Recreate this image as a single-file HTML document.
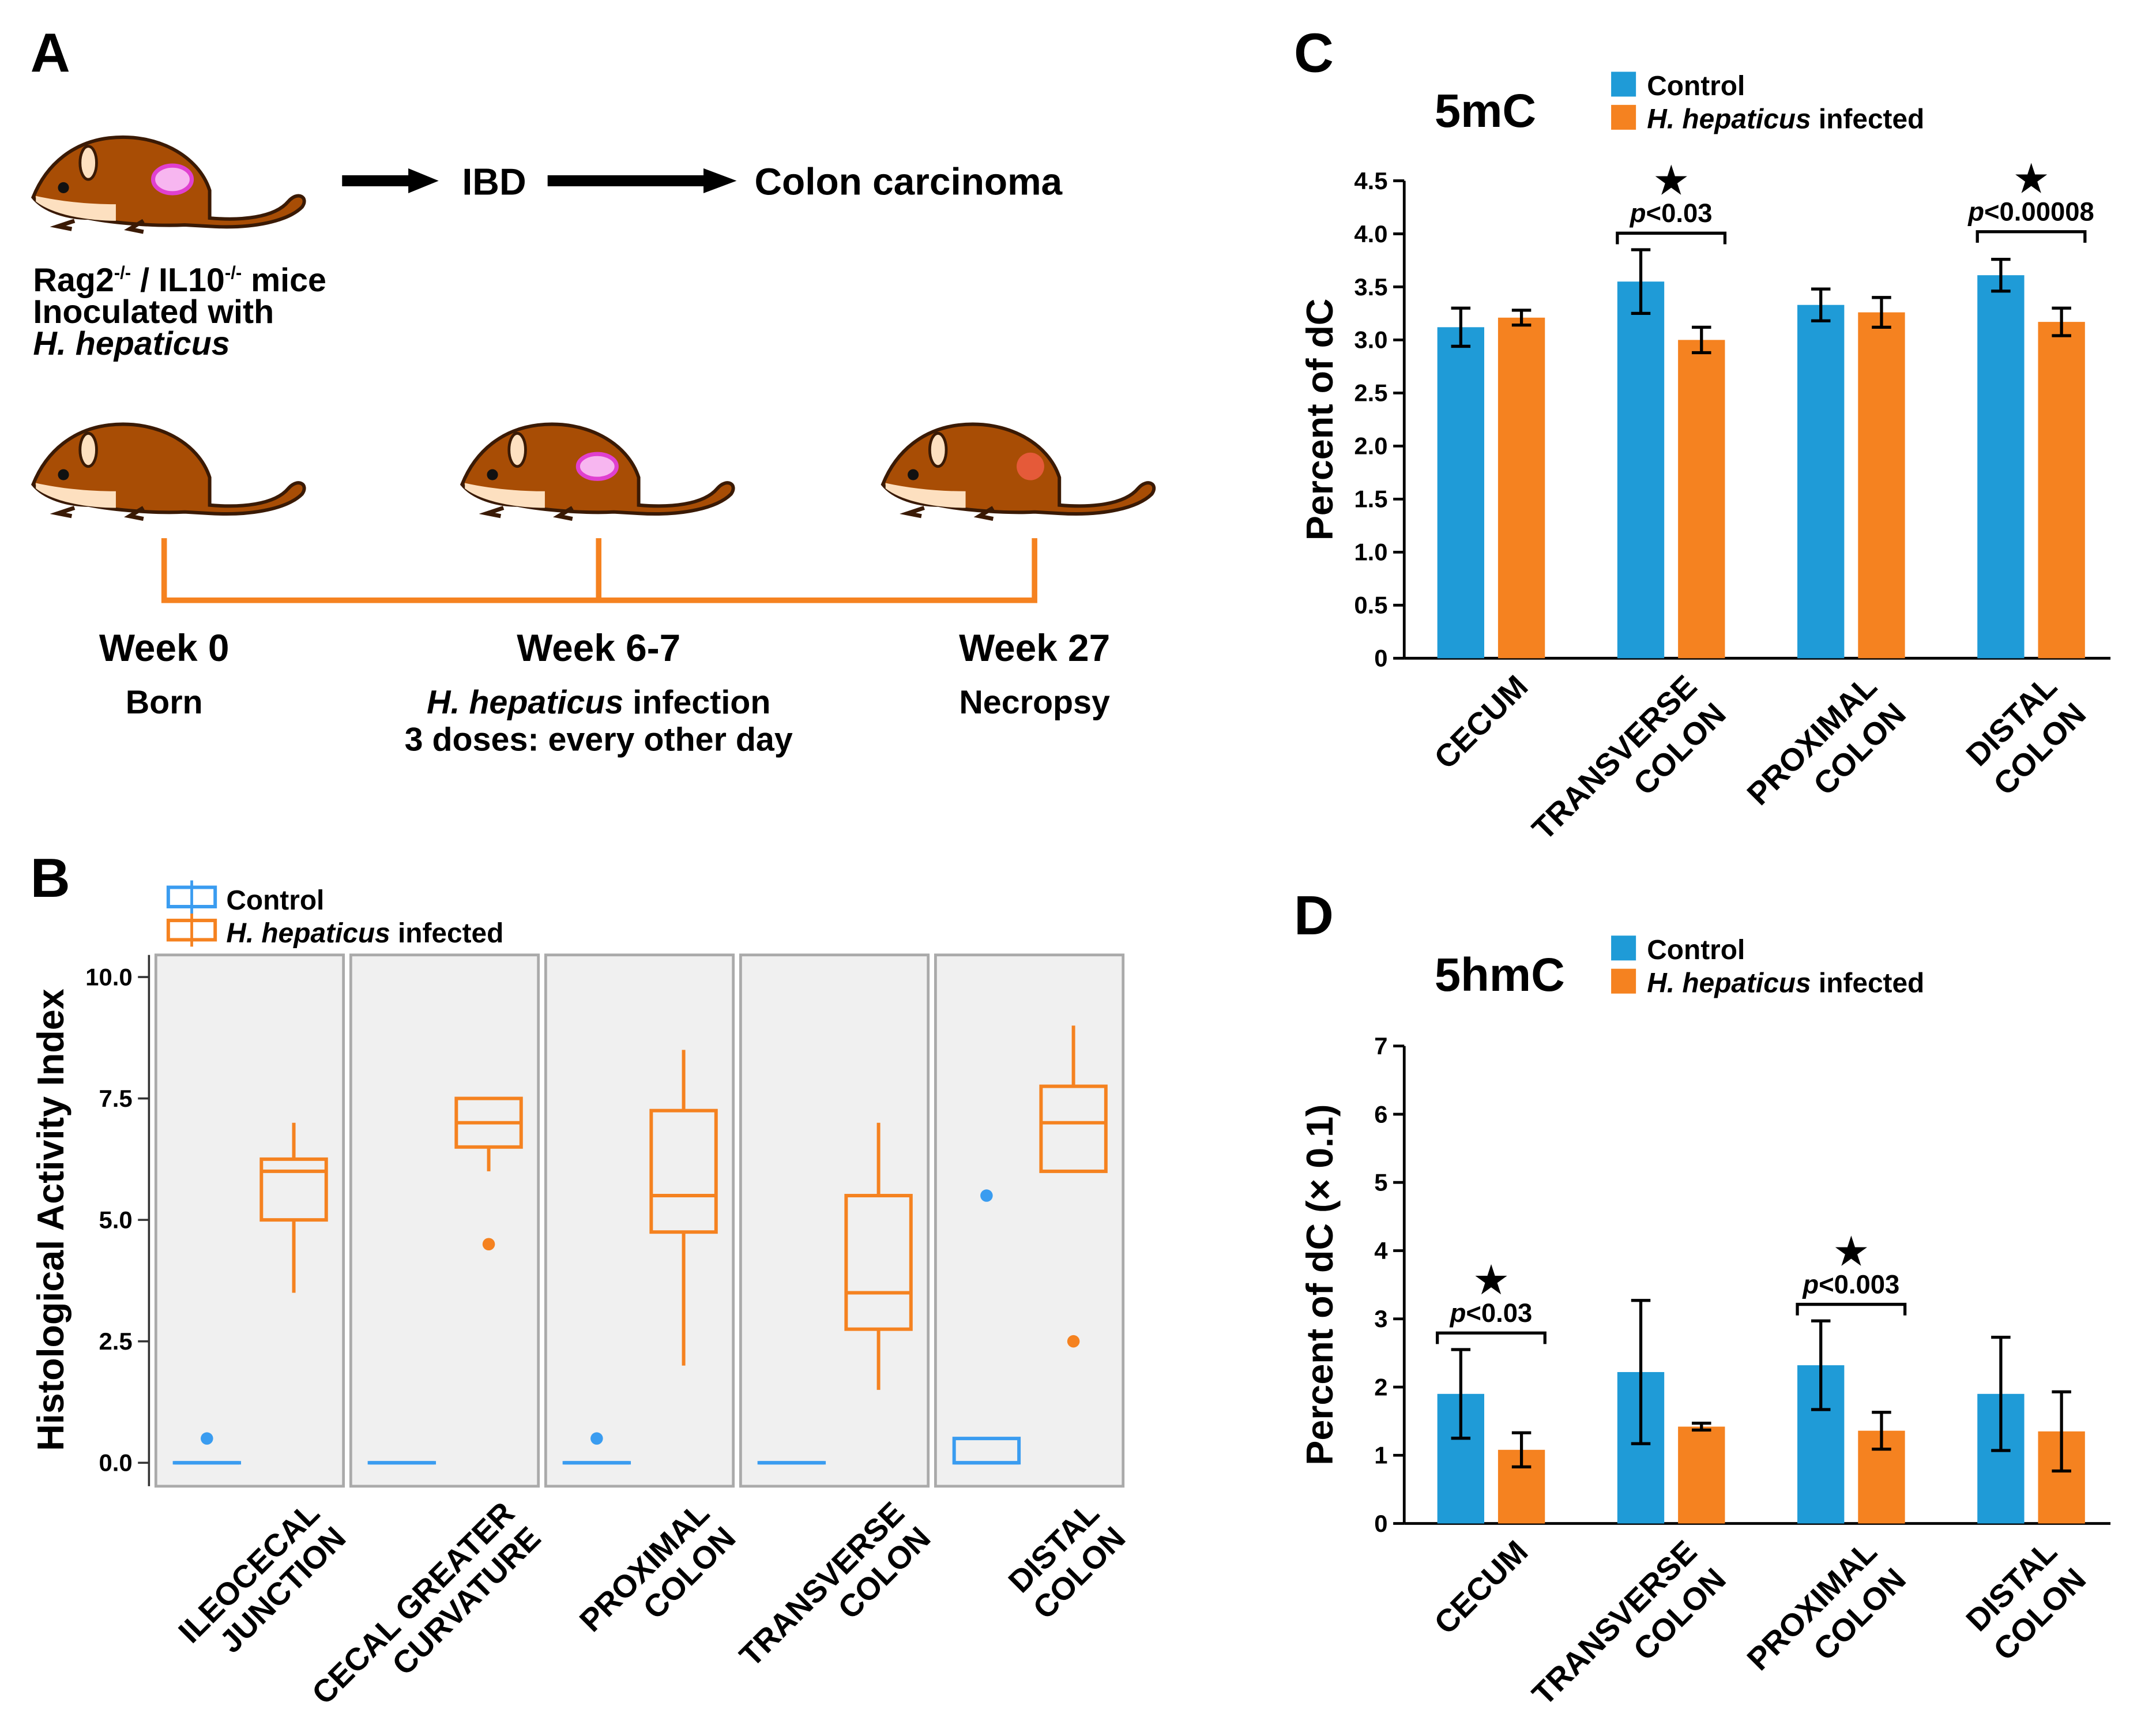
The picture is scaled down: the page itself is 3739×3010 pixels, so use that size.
<!DOCTYPE html>
<html><head><meta charset="utf-8"><style>
html,body{margin:0;padding:0;background:#fff;}
svg{display:block;font-family:"Liberation Sans",Arial,sans-serif;}
</style></head><body>
<svg id="fig" width="3739" height="3010" viewBox="0 0 1563 1258" preserveAspectRatio="none" xmlns="http://www.w3.org/2000/svg">
<defs>
<g id="mouse">
 <path d="M0,45 C10,20 30,5 55,2 C90,-2 120,15 128,40 L128,60 C150,62 175,60 185,48 C192,40 200,45 195,52 C185,62 160,68 128,66 L110,65 C90,66 60,64 40,60 C25,60 8,55 0,45 Z" fill="#a84d05" stroke="#3a1a05" stroke-width="2.5"/>
 <path d="M2,44 C20,48 40,50 60,50 L60,62 C40,62 15,58 2,48 Z" fill="#fde0c0"/>
 <ellipse cx="40" cy="20" rx="6" ry="12" fill="#fde0c0" stroke="#3a1a05" stroke-width="2"/>
 <circle cx="22" cy="38" r="4" fill="#111"/>
 <path d="M30,62 l-12,4 l10,2 M80,62 l-10,6 l10,2" stroke="#3a1a05" stroke-width="3" fill="none"/>
</g>
</defs>

<!-- Panel A -->
<text x="22" y="52" font-size="40" font-weight="bold">A</text>
<g><use href="#mouse" transform="translate(24,98)"/><ellipse cx="125" cy="130" rx="14" ry="10" fill="#f7b6f0" stroke="#e040d0" stroke-width="3"/></g>
<g><rect x="248" y="127" width="50" height="8" fill="#000"/><polygon points="296,122 318,131 296,140" fill="#000"/></g>
<text x="335" y="141" font-size="27" font-weight="bold">IBD</text>
<g><rect x="397" y="127" width="115" height="8" fill="#000"/><polygon points="510,122 534,131 510,140" fill="#000"/></g>
<text x="547" y="141" font-size="27.5" font-weight="bold">Colon carcinoma</text>
<text x="24" y="211" font-size="24" font-weight="bold">Rag2<tspan font-size="13" dy="-9">-/-</tspan><tspan dy="9"> / IL10</tspan><tspan font-size="13" dy="-9">-/-</tspan><tspan dy="9"> mice</tspan></text>
<text x="24" y="234" font-size="24" font-weight="bold">Inoculated with</text>
<text x="24" y="257" font-size="24" font-weight="bold" font-style="italic">H. hepaticus</text>
<g><use href="#mouse" transform="translate(24,306)"/></g>
<g><use href="#mouse" transform="translate(335,306)"/><ellipse cx="433" cy="338" rx="14" ry="9" fill="#f7b6f0" stroke="#e040d0" stroke-width="3"/></g>
<g><use href="#mouse" transform="translate(640,306)"/><circle cx="747" cy="338" r="10" fill="#ff6050" opacity="0.7"/></g>
<g stroke="#f58220" stroke-width="4" fill="none">
 <path d="M119,390 V435 H750 V390 M434,390 V435"/>
</g>
<g font-size="27.5" font-weight="bold" text-anchor="middle">
<text x="119" y="479">Week 0</text>
<text x="434" y="479">Week 6-7</text>
<text x="750" y="479">Week 27</text>
</g>
<g font-size="24" font-weight="bold" text-anchor="middle">
<text x="119" y="517">Born</text>
<text x="434" y="517"><tspan font-style="italic">H. hepaticus</tspan> infection</text>
<text x="434" y="544">3 doses: every other day</text>
<text x="750" y="517">Necropsy</text>
</g>

<!-- Panel B -->
<text x="22" y="650" font-size="40" font-weight="bold">B</text>
<g id="panelB"></g>

<!-- Panel C -->
<text x="938" y="52" font-size="40" font-weight="bold">C</text>
<g id="panelC"></g>
<!-- Panel D -->
<text x="938" y="677" font-size="40" font-weight="bold">D</text>
<g id="panelD"></g>
</svg>
<script>
const NS="http://www.w3.org/2000/svg";
const BLUE="#1f9bd7", ORANGE="#f58220";
// Panel B data
const bCategories=[["ILEOCECAL","JUNCTION"],["CECAL GREATER","CURVATURE"],["PROXIMAL","COLON"],["TRANSVERSE","COLON"],["DISTAL","COLON"]];
const bInfMin=[3.5,6,2,1.5,6];
const bInfQ1=[5,6.5,4.75,2.75,6];
const bInfMed=[6,7,5.5,3.5,7];
const bInfQ3=[6.25,7.5,7.25,5.5,7.75];
const bInfMax=[7,7.5,8.5,7,9];
const bInfOut=[null,4.5,null,null,2.5];
const bCtlQ1=[0,0,0,0,0];
const bCtlQ3=[0,0,0,0,0.5];
const bCtlOut=[0.5,null,0.5,null,5.5];
const bTicks=[0,2.5,5,7.5,10];
const bTickLabels=["0.0","2.5","5.0","7.5","10.0"];
// Panel C data
const cCategories=[["CECUM"],["TRANSVERSE","COLON"],["PROXIMAL","COLON"],["DISTAL","COLON"]];
const cControl=[3.12,3.55,3.33,3.61];
const cControlErr=[0.18,0.3,0.15,0.15];
const cInfected=[3.21,3.0,3.26,3.17];
const cInfectedErr=[0.07,0.12,0.14,0.13];
const cTicks=[0,0.5,1,1.5,2,2.5,3,3.5,4,4.5];
const cTickLabels=["0","0.5","1.0","1.5","2.0","2.5","3.0","3.5","4.0","4.5"];
// Panel D data
const dControl=[1.9,2.22,2.32,1.9];
const dControlErr=[0.65,1.05,0.65,0.83];
const dInfected=[1.08,1.42,1.36,1.35];
const dInfectedErr=[0.25,0.05,0.27,0.58];
const dTicks=[0,1,2,3,4,5,6,7];
const dTickLabels=["0","1","2","3","4","5","6","7"];

function mk(parent,tag,attrs,text){const e=document.createElementNS(NS,tag);for(const k in attrs)e.setAttribute(k,attrs[k]);if(text!==undefined)e.textContent=text;parent.appendChild(e);return e;}

// ---- Panel B ----
(function(){
 const g=document.getElementById('panelB');
 const y=v=>1060-v*35.2;
 const lg=mk(g,'g',{});
 
 
 mk(lg,'rect',{x:122,y:643,width:34,height:14,fill:'none',stroke:'#3a9cf0','stroke-width':2.5});
 mk(lg,'line',{x1:139,y1:638,x2:139,y2:662,stroke:'#3a9cf0','stroke-width':2});
 mk(lg,'text',{x:164,y:659,'font-size':20,'font-weight':'bold'},'Control');
 mk(lg,'rect',{x:122,y:667,width:34,height:14,fill:'none',stroke:ORANGE,'stroke-width':2.5});
 mk(lg,'line',{x1:139,y1:662,x2:139,y2:686,stroke:ORANGE,'stroke-width':2});
 const lt=mk(lg,'text',{x:164,y:683,'font-size':20,'font-weight':'bold'});
 mk(lt,'tspan',{'font-style':'italic'},'H. hepaticus');
 mk(lt,'tspan',{},' infected');
 const yt=mk(g,'text',{x:0,y:0,'font-size':27,'font-weight':'bold','text-anchor':'middle',transform:'translate(46,884) rotate(-90)'},'Histological Activity Index');
 
 
 bTicks.forEach((t,i)=>{
  const tl=mk(g,'text',{x:96,y:y(t)+6,'font-size':17.5,'font-weight':'bold','text-anchor':'end'},bTickLabels[i]);
  
  
  mk(g,'line',{x1:100,x2:108,y1:y(t),y2:y(t),stroke:'#333','stroke-width':1.5});
 });
 mk(g,'line',{x1:108,x2:108,y1:692,y2:1077,stroke:'#333','stroke-width':1.5});
 bCategories.forEach((cat,i)=>{
  const x0=113+i*141.3;
  const fp=mk(g,'rect',{x:x0,y:692,width:136,height:385,fill:'#f0f0f0',stroke:'#aaa','stroke-width':2});
  
  
  const cx=x0+37, ix=x0+100, w=47;
  const cb=mk(g,'rect',{x:cx-w/2,y:y(bCtlQ3[i]),width:w,height:Math.max(0.01,y(bCtlQ1[i])-y(bCtlQ3[i])),fill:'none',stroke:'#3a9cf0','stroke-width':2.5});
  
  
  mk(g,'line',{x1:cx-w/2,x2:cx+w/2,y1:y(bCtlQ1[i]),y2:y(bCtlQ1[i]),stroke:'#3a9cf0','stroke-width':2.5});
  if(bCtlOut[i]!==null){const o=mk(g,'circle',{cx:cx,cy:y(bCtlOut[i]),r:4.5,fill:'#3a9cf0'});}
  mk(g,'line',{x1:ix,x2:ix,y1:y(bInfMax[i]),y2:y(bInfMin[i]),stroke:ORANGE,'stroke-width':2.5});
  const ib=mk(g,'rect',{x:ix-w/2,y:y(bInfQ3[i]),width:w,height:y(bInfQ1[i])-y(bInfQ3[i]),fill:'#f0f0f0',stroke:ORANGE,'stroke-width':2.5});
  
  
  mk(g,'line',{x1:ix-w/2,x2:ix+w/2,y1:y(bInfMed[i]),y2:y(bInfMed[i]),stroke:ORANGE,'stroke-width':2.5});
  if(bInfOut[i]!==null){const o=mk(g,'circle',{cx:ix,cy:y(bInfOut[i]),r:4.5,fill:ORANGE});}
  const lx=x0+120, ly=1098;
  const t1=mk(g,'text',{'font-size':23,'font-weight':'bold','text-anchor':'end',transform:`translate(${lx},${ly}) rotate(-45)`},cat[0]);
  
  
  const t2=mk(g,'text',{'font-size':23,'font-weight':'bold','text-anchor':'end',transform:`translate(${lx+19},${ly+18}) rotate(-45)`},cat[1]);
  
  
 });
})();

function barPanel(gid,y0,yTop,maxV,ticks,labels,ctl,ctlE,inf,infE,title,ytitle,sigs,prefix,legY){
 const g=document.getElementById(gid);
 const y=v=>y0-v*(y0-yTop)/maxV;
 const tt=mk(g,'text',{x:1040,y:legY+40,'font-size':34,'font-weight':'bold'},title);
 
 
 const lg=mk(g,'g',{});
 
 
 mk(lg,'rect',{x:1168,y:legY,width:18,height:18,fill:BLUE});
 mk(lg,'text',{x:1194,y:legY+17,'font-size':20,'font-weight':'bold'},'Control');
 mk(lg,'rect',{x:1168,y:legY+24,width:18,height:18,fill:ORANGE});
 const lt=mk(lg,'text',{x:1194,y:legY+41,'font-size':20,'font-weight':'bold'});
 mk(lt,'tspan',{'font-style':'italic'},'H. hepaticus');
 mk(lt,'tspan',{},' infected');
 const yt=mk(g,'text',{'font-size':27,'font-weight':'bold','text-anchor':'middle',transform:`translate(966,${(y0+yTop)/2}) rotate(-90)`},ytitle);
 
 
 mk(g,'line',{x1:1018,x2:1018,y1:yTop,y2:y0,stroke:'#000','stroke-width':2});
 mk(g,'line',{x1:1018,x2:1530,y1:y0,y2:y0,stroke:'#000','stroke-width':2});
 ticks.forEach((t,i)=>{
  mk(g,'line',{x1:1010,x2:1018,y1:y(t),y2:y(t),stroke:'#000','stroke-width':2});
  const tl=mk(g,'text',{x:1006,y:y(t)+6,'font-size':17.5,'font-weight':'bold','text-anchor':'end'},labels[i]);
  
  
 });
 cCategories.forEach((cat,i)=>{
  const c=1081+i*130.5;
  const b1=mk(g,'rect',{x:c-39,y:y(ctl[i]),width:34,height:y0-y(ctl[i]),fill:BLUE});
  
  
  const b2=mk(g,'rect',{x:c+5,y:y(inf[i]),width:34,height:y0-y(inf[i]),fill:ORANGE});
  
  
  [[c-22,ctl[i],ctlE[i]],[c+22,inf[i],infE[i]]].forEach(([x,v,e])=>{
   const eb=mk(g,'path',{d:`M${x},${y(v+e)}V${y(v-e)}M${x-7},${y(v+e)}H${x+7}M${x-7},${y(v-e)}H${x+7}`,stroke:'#000','stroke-width':2.2,fill:'none'});
   
   
  });
  const lx=c+28, ly=y0+22;
  const t1=mk(g,'text',{'font-size':23,'font-weight':'bold','text-anchor':'end',transform:`translate(${cat[1]?lx-8:lx},${ly}) rotate(-45)`},cat[0]);
  
  
  if(cat[1]){const t2=mk(g,'text',{'font-size':23,'font-weight':'bold','text-anchor':'end',transform:`translate(${lx+13},${ly+20}) rotate(-45)`},cat[1]);
   
   }
 });
 sigs.forEach(s=>{
  const c=1081+s.i*130.5;
  const top=Math.min(y(ctl[s.i]+ctlE[s.i]),y(inf[s.i]+infE[s.i]))-s.off;
  const br=mk(g,'path',{d:`M${c-39},${top+8}V${top}H${c+39}V${top+8}`,stroke:'#000','stroke-width':2.2,fill:'none'});
  
  
  const pt=mk(g,'text',{x:c,y:top-8,'font-size':19,'font-weight':'bold','text-anchor':'middle'});
  
  
  mk(pt,'tspan',{'font-style':'italic'},'p');
  mk(pt,'tspan',{},s.p);
  const st=mk(g,'text',{x:c,y:top-28,'font-size':30,'text-anchor':'middle'},'★');
  
  
 });
}
barPanel('panelC',477,131,4.5,cTicks,cTickLabels,cControl,cControlErr,cInfected,cInfectedErr,'5mC','Percent of dC',[{i:1,p:'<0.03',off:12},{i:3,p:'<0.00008',off:20}],'panel-c',52);
barPanel('panelD',1104,758,7,dTicks,dTickLabels,dControl,dControlErr,dInfected,dInfectedErr,'5hmC','Percent of dC (× 0.1)',[{i:0,p:'<0.03',off:12},{i:2,p:'<0.003',off:12}],'panel-d',678);
</script>
</body></html>
